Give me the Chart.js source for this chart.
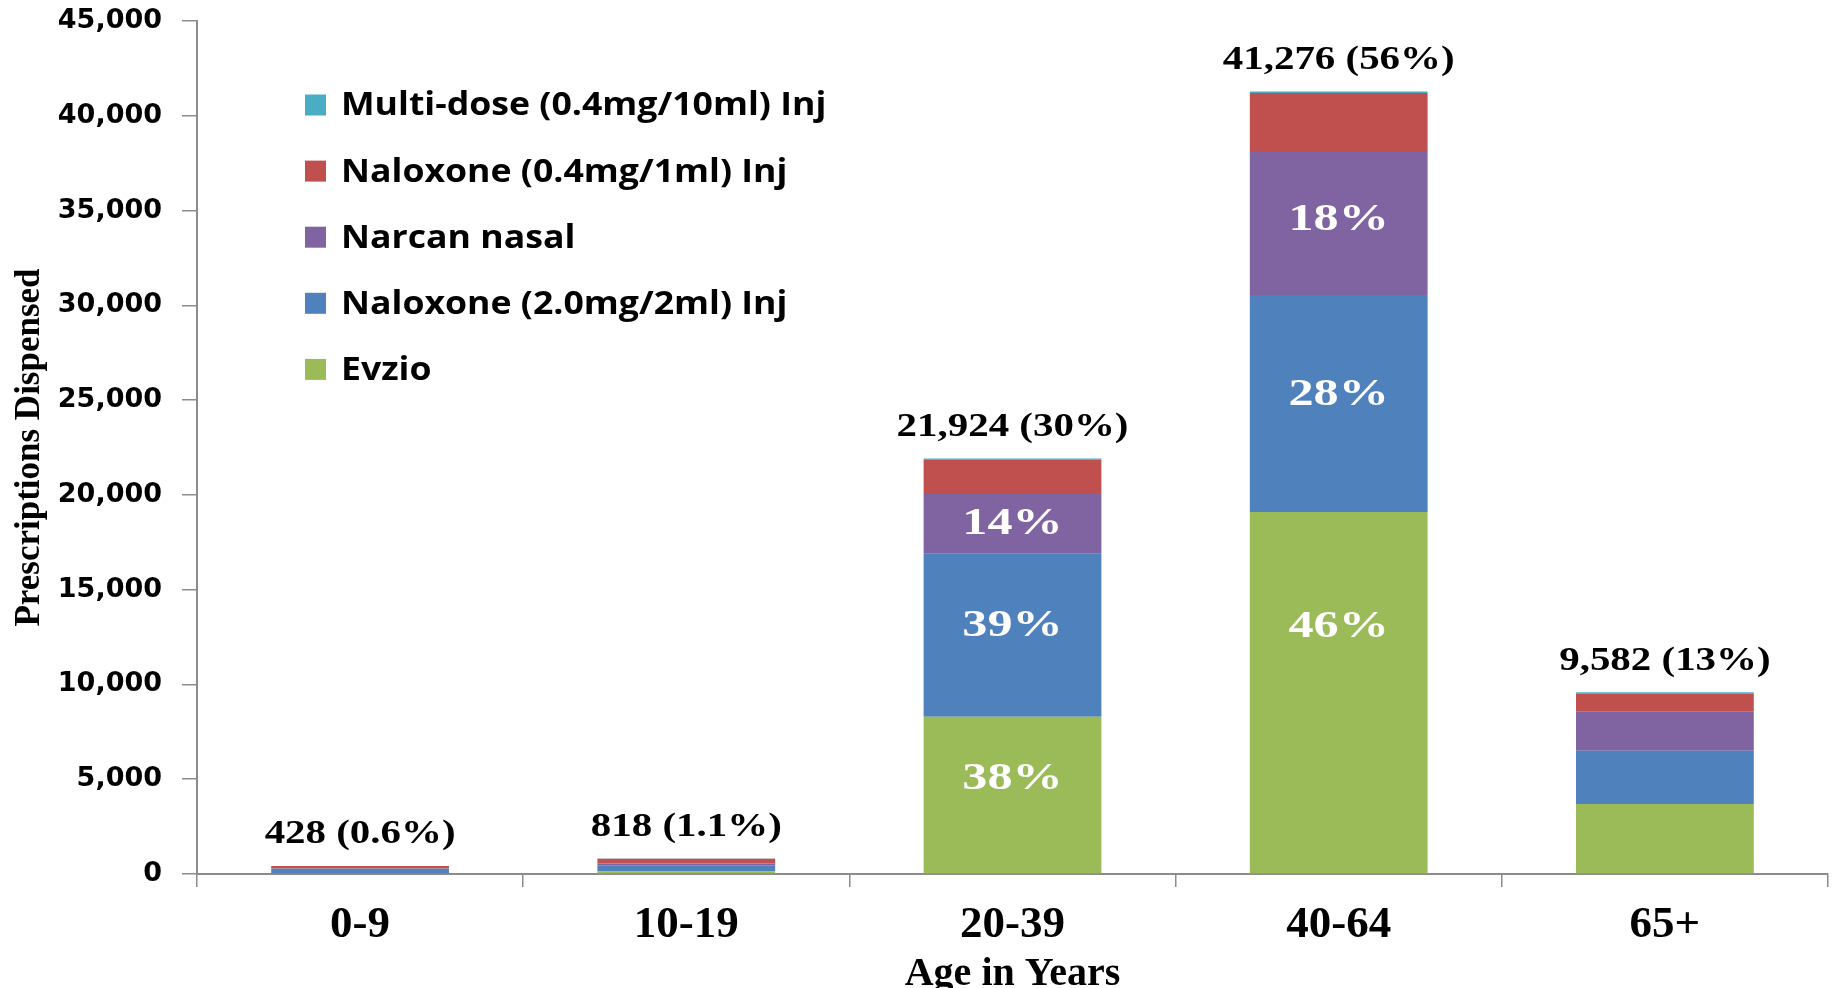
<!DOCTYPE html>
<html>
<head>
<meta charset="utf-8">
<script src="https://cdn.jsdelivr.net/npm/chart.js@4"></script>
<style>
  html, body { margin: 0; padding: 0; background: #ffffff; }
  #wrap { width: 1835px; height: 988px; position: relative; }
</style>
</head>
<body>
<div id="wrap"><canvas id="chart"></canvas></div>
<script>
// Naloxone prescriptions dispensed, by age group and product
const ageGroups = ['0-9', '10-19', '20-39', '40-64', '65+'];

const evzio        = [0,   130, 8300, 19100, 3687];
const naloxone2mg  = [280, 335, 8600, 11445, 2810];
const narcanNasal  = [10,  95,  3150, 7600,  2062];
const naloxone04mg = [130, 238, 1814, 3055,  966];
const multiDose    = [8,   20,  60,   76,    57];

const seriesNames = [
  'Evzio',
  'Naloxone (2.0mg/2ml) Inj',
  'Narcan nasal',
  'Naloxone (0.4mg/1ml) Inj',
  'Multi-dose (0.4mg/10ml) Inj'
];
const seriesValues = [evzio, naloxone2mg, narcanNasal, naloxone04mg, multiDose];
const seriesColors = ['#9BBB59', '#4F81BD', '#8064A2', '#C0504D', '#4BACC6'];

const yMax = 45000;
const yStep = 5000;

// bars whose segments carry their share of the bar total
const shareGroups = ['20-39', '40-64'];
const shareSeries = ['Evzio', 'Naloxone (2.0mg/2ml) Inj', 'Narcan nasal'];
// where each share label sits inside its segment (0 = bottom, 1 = top)
const shareLabelSpot = {
  '20-39': { 'Evzio': 0.60, 'Naloxone (2.0mg/2ml) Inj': 0.555, 'Narcan nasal': 0.49 },
  '40-64': { 'Evzio': 0.68, 'Naloxone (2.0mg/2ml) Inj': 0.54, 'Narcan nasal': 0.52 }
};

const serif = "'Liberation Serif', 'Times New Roman', serif";
const axisGrey = '#8C8C8C';

function drawWide(ctx, text, x, y, sx, align) {
  ctx.save();
  ctx.translate(x, y);
  ctx.scale(sx, 1);
  ctx.textAlign = align || 'center';
  ctx.fillText(text, 0, 0);
  ctx.restore();
}

const barLabels = {
  id: 'barLabels',
  afterDatasetsDraw(chart) {
    const ctx = chart.ctx;
    const sets = chart.data.datasets;
    const n = chart.data.labels.length;
    const totals = [];
    for (let i = 0; i < n; i++) {
      totals.push(sets.reduce((s, d) => s + d.data[i], 0));
    }
    const grand = totals.reduce((a, b) => a + b, 0);
    const topMeta = chart.getDatasetMeta(sets.length - 1);

    ctx.save();
    ctx.textBaseline = 'middle';

    // totals above each bar
    ctx.fillStyle = '#000000';
    ctx.font = 'bold 33px ' + serif;
    for (let i = 0; i < n; i++) {
      const el = topMeta.data[i];
      const p = totals[i] / grand * 100;
      const pTxt = p < 5 ? p.toFixed(1) : Math.round(p).toString();
      const txt = totals[i].toLocaleString('en-US') + ' (' + pTxt + '%)';
      drawWide(ctx, txt, el.x, el.y - 31, 1.24);
    }

    // share of bar inside segments
    ctx.fillStyle = '#ffffff';
    ctx.font = 'bold 38px ' + serif;
    sets.forEach((d, di) => {
      if (!shareSeries.includes(d.label)) return;
      const meta = chart.getDatasetMeta(di);
      chart.data.labels.forEach((g, i) => {
        if (!shareGroups.includes(g)) return;
        const el = meta.data[i];
        const f = shareLabelSpot[g][d.label];
        const txt = Math.round(d.data[i] / totals[i] * 100) + '%';
        drawWide(ctx, txt, el.x, el.base + (el.y - el.base) * f, 1.32);
      });
    });
    ctx.restore();
  }
};

const sideLegend = {
  id: 'sideLegend',
  afterDraw(chart) {
    const ctx = chart.ctx;
    const sets = chart.data.datasets.slice().reverse();
    const x0 = 305, y0 = 105, step = 66.1, box = 21;
    ctx.save();
    ctx.textBaseline = 'middle';
    ctx.font = "bold 33px 'Open Sans', sans-serif";
    sets.forEach((d, i) => {
      const cy = y0 + i * step;
      ctx.fillStyle = d.backgroundColor;
      ctx.fillRect(x0, cy - box / 2, box, box);
      ctx.fillStyle = '#000000';
      drawWide(ctx, d.label, x0 + 36, cy + 1, 1.08, 'left');
    });
    ctx.restore();
  }
};

new Chart(document.getElementById('chart'), {
  type: 'bar',
  data: {
    labels: ageGroups,
    datasets: seriesNames.map((name, i) => ({
      label: name,
      data: seriesValues[i],
      backgroundColor: seriesColors[i],
      borderWidth: 0,
      barPercentage: 0.545,
      categoryPercentage: 1.0
    }))
  },
  options: {
    responsive: true,
    maintainAspectRatio: false,
    animation: false,
    layout: { padding: { top: 21, right: 7, left: 0, bottom: 0 } },
    plugins: {
      legend: { display: false },
      tooltip: { enabled: false }
    },
    scales: {
      x: {
        stacked: true,
        grid: { drawOnChartArea: false, offset: true, tickLength: 13, color: axisGrey, lineWidth: 1.5 },
        border: { color: axisGrey, width: 2 },
        ticks: { color: '#000000', font: { family: serif, weight: 'bold', size: 45 }, padding: 11 },
        title: {
          display: true, text: 'Age in Years', color: '#000000',
          font: { family: serif, weight: 'bold', size: 40 },
          padding: { top: 0, bottom: -11 }
        },
        afterFit(scale) { scale.height = 114; }
      },
      y: {
        stacked: true,
        min: 0,
        max: yMax,
        grid: { drawOnChartArea: false, tickLength: 15, color: axisGrey, lineWidth: 1.5 },
        border: { color: axisGrey, width: 2 },
        ticks: {
          stepSize: yStep,
          color: '#000000',
          font: { family: "'DejaVu Sans', sans-serif", weight: 'bold', size: 27 },
          padding: 20,
          callback: v => v.toLocaleString('en-US')
        },
        title: {
          display: true, text: 'Prescriptions Dispensed', color: '#000000',
          font: { family: serif, weight: 'bold', size: 35 },
          padding: { top: 9, bottom: 0 }
        },
        afterFit(scale) {
          scale.width = 197;
          scale.paddingTop = 0;
          scale.paddingBottom = 0;
        }
      }
    }
  },
  plugins: [barLabels, sideLegend]
});
</script>
</body>
</html>
